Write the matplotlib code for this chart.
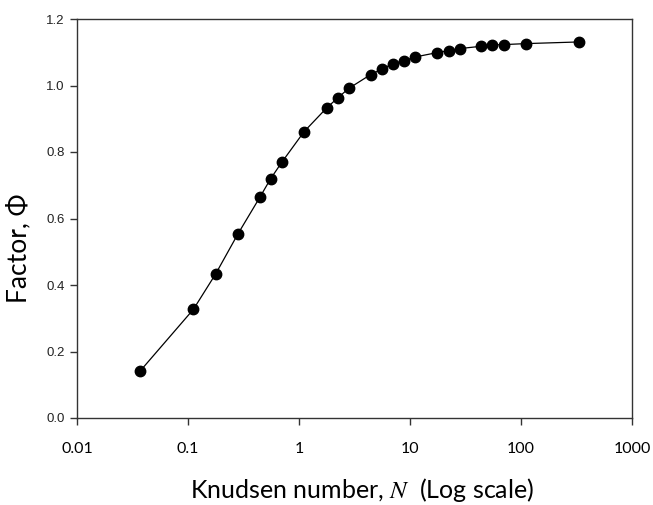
import matplotlib
matplotlib.use('Agg')
from matplotlib import pyplot as plt
from matplotlib.ticker import FixedLocator, FixedFormatter, NullLocator

# Knudsen number N and factor Phi
knudsen = [0.037, 0.112, 0.178, 0.281, 0.446, 0.556, 0.703, 1.11, 1.78, 2.24,
           2.80, 4.43, 5.56, 7.03, 8.89, 11.2, 17.6, 22.5, 28.0, 43.9,
           55.2, 69.8, 111, 333]
factor = [0.141, 0.327, 0.434, 0.553, 0.665, 0.720, 0.770, 0.861, 0.933, 0.963,
          0.991, 1.033, 1.049, 1.066, 1.075, 1.086, 1.099, 1.105, 1.111, 1.118,
          1.122, 1.123, 1.126, 1.131]

x_ticks = [0.01, 0.1, 1, 10, 100, 1000]
x_tick_labels = ['0.01', '0.1', '1', '10', '100', '1000']
y_ticks = [0.0, 0.2, 0.4, 0.6, 0.8, 1.0, 1.2]
y_tick_labels = ['0.0', '0.2', '0.4', '0.6', '0.8', '1.0', '1.2']

plt.rcParams['mathtext.fontset'] = 'stix'

fig = plt.figure(figsize=(6.53, 5.05), dpi=100)
ax = fig.add_axes([77 / 653, 87 / 505, 555 / 653, 399 / 505])

ax.plot(knudsen, factor, '-', color='black', linewidth=0.9)
ax.plot(knudsen, factor, 'o', color='black', markersize=7.5)

ax.set_xscale('log')
ax.set_xlim(0.01, 1000)
ax.set_ylim(0.0, 1.2)

ax.xaxis.set_major_locator(FixedLocator(x_ticks))
ax.xaxis.set_major_formatter(FixedFormatter(x_tick_labels))
ax.xaxis.set_minor_locator(NullLocator())
ax.yaxis.set_major_locator(FixedLocator(y_ticks))
ax.yaxis.set_major_formatter(FixedFormatter(y_tick_labels))

ax.tick_params(axis='both', direction='out', length=5, width=1, color='#333333')
ax.tick_params(axis='x', pad=12, labelsize=11.5)
ax.tick_params(axis='y', pad=4, labelsize=9.5, labelcolor='#222222')
for lbl in ax.get_xticklabels():
    lbl.set_fontfamily('Lato')
for lbl in ax.get_yticklabels():
    lbl.set_fontfamily('Liberation Sans')

for sp in ax.spines.values():
    sp.set_color('#333333')
    sp.set_linewidth(1.0)

fig.text(362 / 653, 1 - 490 / 505, r'Knudsen number, $N$  (Log scale)',
         fontsize=18, family='Lato', ha='center', va='center')
fig.text(19 / 653, 1 - 248 / 505, 'Factor, \u03a6', fontsize=19, family='Lato',
         rotation=90, ha='center', va='center')

fig.savefig('out.png', dpi=100)
